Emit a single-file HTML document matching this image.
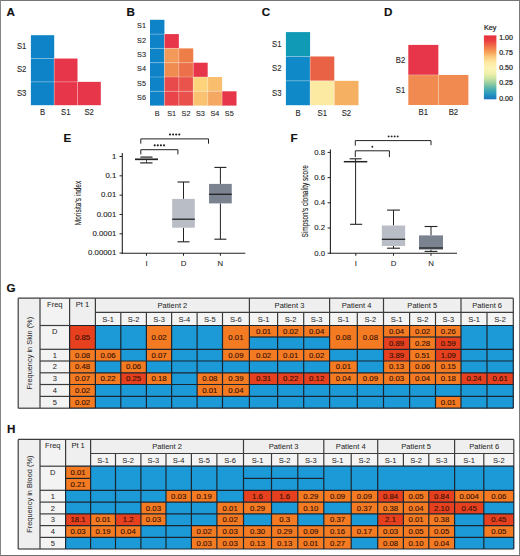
<!DOCTYPE html>
<html><head><meta charset="utf-8"><title>Figure</title>
<style>
html,body{margin:0;padding:0;background:#fff;}
body{width:520px;height:556px;overflow:hidden;}
svg{display:block;font-family:"Liberation Sans", sans-serif;}
</style></head>
<body>
<svg width="520" height="556" viewBox="0 0 520 556">
<rect x="0" y="0" width="520" height="556" fill="#fff"/>
<text transform="translate(6.60,16.30) scale(1.060,1)" font-size="11.0" text-anchor="start" font-weight="bold" fill="#111" stroke="#111" stroke-width="0.15" >A</text>
<text transform="translate(126.60,16.10) scale(1.060,1)" font-size="11.0" text-anchor="start" font-weight="bold" fill="#111" stroke="#111" stroke-width="0.15" >B</text>
<text transform="translate(261.80,16.30) scale(1.060,1)" font-size="11.0" text-anchor="start" font-weight="bold" fill="#111" stroke="#111" stroke-width="0.15" >C</text>
<text transform="translate(384.00,16.30) scale(1.060,1)" font-size="11.0" text-anchor="start" font-weight="bold" fill="#111" stroke="#111" stroke-width="0.15" >D</text>
<text transform="translate(63.40,141.90) scale(1.060,1)" font-size="11.0" text-anchor="start" font-weight="bold" fill="#111" stroke="#111" stroke-width="0.15" >E</text>
<text transform="translate(290.40,141.90) scale(1.060,1)" font-size="11.0" text-anchor="start" font-weight="bold" fill="#111" stroke="#111" stroke-width="0.15" >F</text>
<text transform="translate(6.40,292.30) scale(1.060,1)" font-size="11.0" text-anchor="start" font-weight="bold" fill="#111" stroke="#111" stroke-width="0.15" >G</text>
<text transform="translate(6.90,433.10) scale(1.060,1)" font-size="11.0" text-anchor="start" font-weight="bold" fill="#111" stroke="#111" stroke-width="0.15" >H</text>
<rect x="30.90" y="35.20" width="23.30" height="23.33" fill="#0e83c7" />
<rect x="30.90" y="58.53" width="23.30" height="23.33" fill="#0e83c7" />
<rect x="54.20" y="58.53" width="23.30" height="23.33" fill="#e7364a" />
<rect x="30.90" y="81.86" width="23.30" height="23.33" fill="#0e83c7" />
<rect x="54.20" y="81.86" width="23.30" height="23.33" fill="#e7364a" />
<rect x="77.50" y="81.86" width="23.30" height="23.33" fill="#e7364a" />
<line x1="30.90" y1="58.53" x2="54.20" y2="58.53" stroke="rgba(255,255,255,0.35)" stroke-width="0.8" />
<line x1="54.20" y1="58.53" x2="54.20" y2="81.86" stroke="rgba(255,255,255,0.35)" stroke-width="0.8" />
<line x1="30.90" y1="81.86" x2="54.20" y2="81.86" stroke="rgba(255,255,255,0.35)" stroke-width="0.8" />
<line x1="54.20" y1="81.86" x2="77.50" y2="81.86" stroke="rgba(255,255,255,0.35)" stroke-width="0.8" />
<line x1="54.20" y1="81.86" x2="54.20" y2="105.19" stroke="rgba(255,255,255,0.35)" stroke-width="0.8" />
<line x1="77.50" y1="81.86" x2="77.50" y2="105.19" stroke="rgba(255,255,255,0.35)" stroke-width="0.8" />
<text transform="translate(26.40,48.87) scale(0.900,1)" font-size="8.6" text-anchor="end" font-weight="normal" fill="#262626" stroke="#262626" stroke-width="0.1" >S1</text>
<text transform="translate(26.40,72.19) scale(0.900,1)" font-size="8.6" text-anchor="end" font-weight="normal" fill="#262626" stroke="#262626" stroke-width="0.1" >S2</text>
<text transform="translate(26.40,95.53) scale(0.900,1)" font-size="8.6" text-anchor="end" font-weight="normal" fill="#262626" stroke="#262626" stroke-width="0.1" >S3</text>
<text transform="translate(42.55,115.48) scale(0.900,1)" font-size="8.6" text-anchor="middle" font-weight="normal" fill="#262626" stroke="#262626" stroke-width="0.1" >B</text>
<text transform="translate(65.85,115.48) scale(0.900,1)" font-size="8.6" text-anchor="middle" font-weight="normal" fill="#262626" stroke="#262626" stroke-width="0.1" >S1</text>
<text transform="translate(89.15,115.48) scale(0.900,1)" font-size="8.6" text-anchor="middle" font-weight="normal" fill="#262626" stroke="#262626" stroke-width="0.1" >S2</text>
<rect x="150.00" y="19.80" width="14.42" height="14.30" fill="#0e83c7" />
<rect x="150.00" y="34.10" width="14.42" height="14.30" fill="#0e83c7" />
<rect x="164.42" y="34.10" width="14.42" height="14.30" fill="#e7364a" />
<rect x="150.00" y="48.40" width="14.42" height="14.30" fill="#0e83c7" />
<rect x="164.42" y="48.40" width="14.42" height="14.30" fill="#f39a5a" />
<rect x="178.84" y="48.40" width="14.42" height="14.30" fill="#ee7e48" />
<rect x="150.00" y="62.70" width="14.42" height="14.30" fill="#0e83c7" />
<rect x="164.42" y="62.70" width="14.42" height="14.30" fill="#f08c50" />
<rect x="178.84" y="62.70" width="14.42" height="14.30" fill="#ec7049" />
<rect x="193.26" y="62.70" width="14.42" height="14.30" fill="#e7364a" />
<rect x="150.00" y="77.00" width="14.42" height="14.30" fill="#0e83c7" />
<rect x="164.42" y="77.00" width="14.42" height="14.30" fill="#e84a4b" />
<rect x="178.84" y="77.00" width="14.42" height="14.30" fill="#e9534c" />
<rect x="193.26" y="77.00" width="14.42" height="14.30" fill="#fdd37b" />
<rect x="207.68" y="77.00" width="14.42" height="14.30" fill="#f9be6e" />
<rect x="150.00" y="91.30" width="14.42" height="14.30" fill="#0e83c7" />
<rect x="164.42" y="91.30" width="14.42" height="14.30" fill="#e8444a" />
<rect x="178.84" y="91.30" width="14.42" height="14.30" fill="#e9504c" />
<rect x="193.26" y="91.30" width="14.42" height="14.30" fill="#f8c271" />
<rect x="207.68" y="91.30" width="14.42" height="14.30" fill="#f5a862" />
<rect x="222.10" y="91.30" width="14.42" height="14.30" fill="#e7364a" />
<line x1="150.00" y1="34.10" x2="164.42" y2="34.10" stroke="rgba(255,255,255,0.35)" stroke-width="0.8" />
<line x1="164.42" y1="34.10" x2="164.42" y2="48.40" stroke="rgba(255,255,255,0.35)" stroke-width="0.8" />
<line x1="150.00" y1="48.40" x2="164.42" y2="48.40" stroke="rgba(255,255,255,0.35)" stroke-width="0.8" />
<line x1="164.42" y1="48.40" x2="178.84" y2="48.40" stroke="rgba(255,255,255,0.35)" stroke-width="0.8" />
<line x1="164.42" y1="48.40" x2="164.42" y2="62.70" stroke="rgba(255,255,255,0.35)" stroke-width="0.8" />
<line x1="178.84" y1="48.40" x2="178.84" y2="62.70" stroke="rgba(255,255,255,0.35)" stroke-width="0.8" />
<line x1="150.00" y1="62.70" x2="164.42" y2="62.70" stroke="rgba(255,255,255,0.35)" stroke-width="0.8" />
<line x1="164.42" y1="62.70" x2="178.84" y2="62.70" stroke="rgba(255,255,255,0.35)" stroke-width="0.8" />
<line x1="164.42" y1="62.70" x2="164.42" y2="77.00" stroke="rgba(255,255,255,0.35)" stroke-width="0.8" />
<line x1="178.84" y1="62.70" x2="193.26" y2="62.70" stroke="rgba(255,255,255,0.35)" stroke-width="0.8" />
<line x1="178.84" y1="62.70" x2="178.84" y2="77.00" stroke="rgba(255,255,255,0.35)" stroke-width="0.8" />
<line x1="193.26" y1="62.70" x2="193.26" y2="77.00" stroke="rgba(255,255,255,0.35)" stroke-width="0.8" />
<line x1="150.00" y1="77.00" x2="164.42" y2="77.00" stroke="rgba(255,255,255,0.35)" stroke-width="0.8" />
<line x1="164.42" y1="77.00" x2="178.84" y2="77.00" stroke="rgba(255,255,255,0.35)" stroke-width="0.8" />
<line x1="164.42" y1="77.00" x2="164.42" y2="91.30" stroke="rgba(255,255,255,0.35)" stroke-width="0.8" />
<line x1="178.84" y1="77.00" x2="193.26" y2="77.00" stroke="rgba(255,255,255,0.35)" stroke-width="0.8" />
<line x1="178.84" y1="77.00" x2="178.84" y2="91.30" stroke="rgba(255,255,255,0.35)" stroke-width="0.8" />
<line x1="193.26" y1="77.00" x2="207.68" y2="77.00" stroke="rgba(255,255,255,0.35)" stroke-width="0.8" />
<line x1="193.26" y1="77.00" x2="193.26" y2="91.30" stroke="rgba(255,255,255,0.35)" stroke-width="0.8" />
<line x1="207.68" y1="77.00" x2="207.68" y2="91.30" stroke="rgba(255,255,255,0.35)" stroke-width="0.8" />
<line x1="150.00" y1="91.30" x2="164.42" y2="91.30" stroke="rgba(255,255,255,0.35)" stroke-width="0.8" />
<line x1="164.42" y1="91.30" x2="178.84" y2="91.30" stroke="rgba(255,255,255,0.35)" stroke-width="0.8" />
<line x1="164.42" y1="91.30" x2="164.42" y2="105.60" stroke="rgba(255,255,255,0.35)" stroke-width="0.8" />
<line x1="178.84" y1="91.30" x2="193.26" y2="91.30" stroke="rgba(255,255,255,0.35)" stroke-width="0.8" />
<line x1="178.84" y1="91.30" x2="178.84" y2="105.60" stroke="rgba(255,255,255,0.35)" stroke-width="0.8" />
<line x1="193.26" y1="91.30" x2="207.68" y2="91.30" stroke="rgba(255,255,255,0.35)" stroke-width="0.8" />
<line x1="193.26" y1="91.30" x2="193.26" y2="105.60" stroke="rgba(255,255,255,0.35)" stroke-width="0.8" />
<line x1="207.68" y1="91.30" x2="222.10" y2="91.30" stroke="rgba(255,255,255,0.35)" stroke-width="0.8" />
<line x1="207.68" y1="91.30" x2="207.68" y2="105.60" stroke="rgba(255,255,255,0.35)" stroke-width="0.8" />
<line x1="222.10" y1="91.30" x2="222.10" y2="105.60" stroke="rgba(255,255,255,0.35)" stroke-width="0.8" />
<text transform="translate(146.00,28.45) scale(0.920,1)" font-size="7.9" text-anchor="end" font-weight="normal" fill="#262626" stroke="#262626" stroke-width="0.1" >S1</text>
<text transform="translate(146.00,42.75) scale(0.920,1)" font-size="7.9" text-anchor="end" font-weight="normal" fill="#262626" stroke="#262626" stroke-width="0.1" >S2</text>
<text transform="translate(146.00,57.05) scale(0.920,1)" font-size="7.9" text-anchor="end" font-weight="normal" fill="#262626" stroke="#262626" stroke-width="0.1" >S3</text>
<text transform="translate(146.00,71.35) scale(0.920,1)" font-size="7.9" text-anchor="end" font-weight="normal" fill="#262626" stroke="#262626" stroke-width="0.1" >S4</text>
<text transform="translate(146.00,85.65) scale(0.920,1)" font-size="7.9" text-anchor="end" font-weight="normal" fill="#262626" stroke="#262626" stroke-width="0.1" >S5</text>
<text transform="translate(146.00,99.95) scale(0.920,1)" font-size="7.9" text-anchor="end" font-weight="normal" fill="#262626" stroke="#262626" stroke-width="0.1" >S6</text>
<text transform="translate(157.21,115.59) scale(0.920,1)" font-size="7.9" text-anchor="middle" font-weight="normal" fill="#262626" stroke="#262626" stroke-width="0.1" >B</text>
<text transform="translate(171.63,115.59) scale(0.920,1)" font-size="7.9" text-anchor="middle" font-weight="normal" fill="#262626" stroke="#262626" stroke-width="0.1" >S1</text>
<text transform="translate(186.05,115.59) scale(0.920,1)" font-size="7.9" text-anchor="middle" font-weight="normal" fill="#262626" stroke="#262626" stroke-width="0.1" >S2</text>
<text transform="translate(200.47,115.59) scale(0.920,1)" font-size="7.9" text-anchor="middle" font-weight="normal" fill="#262626" stroke="#262626" stroke-width="0.1" >S3</text>
<text transform="translate(214.89,115.59) scale(0.920,1)" font-size="7.9" text-anchor="middle" font-weight="normal" fill="#262626" stroke="#262626" stroke-width="0.1" >S4</text>
<text transform="translate(229.31,115.59) scale(0.920,1)" font-size="7.9" text-anchor="middle" font-weight="normal" fill="#262626" stroke="#262626" stroke-width="0.1" >S5</text>
<rect x="285.90" y="32.10" width="24.20" height="24.37" fill="#109ab5" />
<rect x="285.90" y="56.47" width="24.20" height="24.37" fill="#0f89c7" />
<rect x="310.10" y="56.47" width="24.20" height="24.37" fill="#ea6245" />
<rect x="285.90" y="80.84" width="24.20" height="24.37" fill="#0f89c7" />
<rect x="310.10" y="80.84" width="24.20" height="24.37" fill="#fdeaa2" />
<rect x="334.30" y="80.84" width="24.20" height="24.37" fill="#f5b062" />
<line x1="285.90" y1="56.47" x2="310.10" y2="56.47" stroke="rgba(255,255,255,0.35)" stroke-width="0.8" />
<line x1="310.10" y1="56.47" x2="310.10" y2="80.84" stroke="rgba(255,255,255,0.35)" stroke-width="0.8" />
<line x1="285.90" y1="80.84" x2="310.10" y2="80.84" stroke="rgba(255,255,255,0.35)" stroke-width="0.8" />
<line x1="310.10" y1="80.84" x2="334.30" y2="80.84" stroke="rgba(255,255,255,0.35)" stroke-width="0.8" />
<line x1="310.10" y1="80.84" x2="310.10" y2="105.21" stroke="rgba(255,255,255,0.35)" stroke-width="0.8" />
<line x1="334.30" y1="80.84" x2="334.30" y2="105.21" stroke="rgba(255,255,255,0.35)" stroke-width="0.8" />
<text transform="translate(281.50,47.09) scale(0.900,1)" font-size="8.6" text-anchor="end" font-weight="normal" fill="#262626" stroke="#262626" stroke-width="0.1" >S1</text>
<text transform="translate(281.50,71.45) scale(0.900,1)" font-size="8.6" text-anchor="end" font-weight="normal" fill="#262626" stroke="#262626" stroke-width="0.1" >S2</text>
<text transform="translate(281.50,95.83) scale(0.900,1)" font-size="8.6" text-anchor="end" font-weight="normal" fill="#262626" stroke="#262626" stroke-width="0.1" >S3</text>
<text transform="translate(298.00,115.50) scale(0.900,1)" font-size="8.6" text-anchor="middle" font-weight="normal" fill="#262626" stroke="#262626" stroke-width="0.1" >B</text>
<text transform="translate(322.20,115.50) scale(0.900,1)" font-size="8.6" text-anchor="middle" font-weight="normal" fill="#262626" stroke="#262626" stroke-width="0.1" >S1</text>
<text transform="translate(346.40,115.50) scale(0.900,1)" font-size="8.6" text-anchor="middle" font-weight="normal" fill="#262626" stroke="#262626" stroke-width="0.1" >S2</text>
<rect x="408.30" y="44.90" width="30.05" height="30.05" fill="#e7364a" />
<rect x="408.30" y="74.95" width="30.05" height="30.05" fill="#f08a50" />
<rect x="438.35" y="74.95" width="30.05" height="30.05" fill="#f08a50" />
<line x1="408.30" y1="74.95" x2="438.35" y2="74.95" stroke="rgba(255,255,255,0.35)" stroke-width="0.8" />
<line x1="438.35" y1="74.95" x2="438.35" y2="105.00" stroke="rgba(255,255,255,0.35)" stroke-width="0.8" />
<text transform="translate(405.30,62.92) scale(0.900,1)" font-size="8.6" text-anchor="end" font-weight="normal" fill="#262626" stroke="#262626" stroke-width="0.1" >B2</text>
<text transform="translate(405.30,92.98) scale(0.900,1)" font-size="8.6" text-anchor="end" font-weight="normal" fill="#262626" stroke="#262626" stroke-width="0.1" >S1</text>
<text transform="translate(423.32,115.29) scale(0.900,1)" font-size="8.6" text-anchor="middle" font-weight="normal" fill="#262626" stroke="#262626" stroke-width="0.1" >B1</text>
<text transform="translate(453.38,115.29) scale(0.900,1)" font-size="8.6" text-anchor="middle" font-weight="normal" fill="#262626" stroke="#262626" stroke-width="0.1" >B2</text>
<defs><linearGradient id="spec" x1="0" y1="0" x2="0" y2="1"><stop offset="0" stop-color="#e52f3d"/><stop offset="0.08" stop-color="#e93d40"/><stop offset="0.16" stop-color="#f06a48"/><stop offset="0.25" stop-color="#f59a55"/><stop offset="0.33" stop-color="#fbc77a"/><stop offset="0.42" stop-color="#fde9a3"/><stop offset="0.52" stop-color="#fbf4b5"/><stop offset="0.6" stop-color="#eef0a8"/><stop offset="0.68" stop-color="#c8e2a2"/><stop offset="0.76" stop-color="#8ccaa2"/><stop offset="0.84" stop-color="#4fb0ae"/><stop offset="0.92" stop-color="#2596c0"/><stop offset="1.0" stop-color="#1b74be"/></linearGradient></defs>
<rect x="483.90" y="35.40" width="12.50" height="63.90" fill="url(#spec)" />
<text transform="translate(483.90,30.00)" font-size="7.2" text-anchor="start" font-weight="normal" fill="#222" stroke="#222" stroke-width="0.22" >Key</text>
<text transform="translate(499.20,40.10)" font-size="7.0" text-anchor="start" font-weight="normal" fill="#222" stroke="#222" stroke-width="0.22" >1.00</text>
<text transform="translate(499.20,55.23)" font-size="7.0" text-anchor="start" font-weight="normal" fill="#222" stroke="#222" stroke-width="0.22" >0.75</text>
<text transform="translate(499.20,70.36)" font-size="7.0" text-anchor="start" font-weight="normal" fill="#222" stroke="#222" stroke-width="0.22" >0.50</text>
<text transform="translate(499.20,85.49)" font-size="7.0" text-anchor="start" font-weight="normal" fill="#222" stroke="#222" stroke-width="0.22" >0.25</text>
<text transform="translate(499.20,100.62)" font-size="7.0" text-anchor="start" font-weight="normal" fill="#222" stroke="#222" stroke-width="0.22" >0.00</text>
<line x1="122.30" y1="153.00" x2="122.30" y2="253.70" stroke="#222" stroke-width="1.1" />
<line x1="121.80" y1="253.20" x2="245.30" y2="253.20" stroke="#222" stroke-width="1.1" />
<line x1="119.50" y1="156.50" x2="122.30" y2="156.50" stroke="#222" stroke-width="1.0" />
<text transform="translate(116.30,158.80) scale(1.220,1)" font-size="6.4" text-anchor="end" font-weight="normal" fill="#222" stroke="#222" stroke-width="0.1" >1</text>
<line x1="119.50" y1="175.82" x2="122.30" y2="175.82" stroke="#222" stroke-width="1.0" />
<text transform="translate(116.30,178.12) scale(1.220,1)" font-size="6.4" text-anchor="end" font-weight="normal" fill="#222" stroke="#222" stroke-width="0.1" >0.1</text>
<line x1="119.50" y1="195.14" x2="122.30" y2="195.14" stroke="#222" stroke-width="1.0" />
<text transform="translate(116.30,197.44) scale(1.220,1)" font-size="6.4" text-anchor="end" font-weight="normal" fill="#222" stroke="#222" stroke-width="0.1" >0.01</text>
<line x1="119.50" y1="214.46" x2="122.30" y2="214.46" stroke="#222" stroke-width="1.0" />
<text transform="translate(116.30,216.76) scale(1.220,1)" font-size="6.4" text-anchor="end" font-weight="normal" fill="#222" stroke="#222" stroke-width="0.1" >0.001</text>
<line x1="119.50" y1="233.78" x2="122.30" y2="233.78" stroke="#222" stroke-width="1.0" />
<text transform="translate(116.30,236.08) scale(1.220,1)" font-size="6.4" text-anchor="end" font-weight="normal" fill="#222" stroke="#222" stroke-width="0.1" >0.0001</text>
<line x1="119.50" y1="253.10" x2="122.30" y2="253.10" stroke="#222" stroke-width="1.0" />
<text transform="translate(116.30,255.40) scale(1.220,1)" font-size="6.4" text-anchor="end" font-weight="normal" fill="#222" stroke="#222" stroke-width="0.1" >0.00001</text>
<line x1="146.50" y1="253.20" x2="146.50" y2="255.80" stroke="#222" stroke-width="1.0" />
<text transform="translate(146.50,265.70) scale(1.220,1)" font-size="6.4" text-anchor="middle" font-weight="normal" fill="#222" stroke="#222" stroke-width="0.05" >I</text>
<line x1="183.50" y1="253.20" x2="183.50" y2="255.80" stroke="#222" stroke-width="1.0" />
<text transform="translate(183.50,265.70) scale(1.220,1)" font-size="6.4" text-anchor="middle" font-weight="normal" fill="#222" stroke="#222" stroke-width="0.05" >D</text>
<line x1="220.40" y1="253.20" x2="220.40" y2="255.80" stroke="#222" stroke-width="1.0" />
<text transform="translate(220.40,265.70) scale(1.220,1)" font-size="6.4" text-anchor="middle" font-weight="normal" fill="#222" stroke="#222" stroke-width="0.05" >N</text>
<text transform="translate(81.00,203.00) rotate(-90) scale(0.720,1)" font-size="9.0" text-anchor="middle" font-weight="normal" fill="#222" stroke="#222" stroke-width="0.12" >Morisita's index</text>
<line x1="140.40" y1="157.10" x2="152.50" y2="157.10" stroke="#222" stroke-width="1.2" />
<line x1="135.00" y1="159.30" x2="158.00" y2="159.30" stroke="#222" stroke-width="1.7" />
<line x1="140.20" y1="162.90" x2="152.50" y2="162.90" stroke="#222" stroke-width="1.2" />
<line x1="146.50" y1="159.30" x2="146.50" y2="162.90" stroke="#222" stroke-width="0.8" />
<line x1="183.50" y1="182.00" x2="183.50" y2="198.90" stroke="#222" stroke-width="1.0" />
<line x1="183.50" y1="227.70" x2="183.50" y2="241.80" stroke="#222" stroke-width="1.0" />
<line x1="177.50" y1="182.00" x2="189.50" y2="182.00" stroke="#222" stroke-width="1.1" />
<line x1="177.50" y1="241.80" x2="189.50" y2="241.80" stroke="#222" stroke-width="1.1" />
<rect x="172.20" y="198.90" width="22.60" height="28.80" fill="#b9bdc5" />
<line x1="172.20" y1="219.20" x2="194.80" y2="219.20" stroke="#222" stroke-width="1.3" />
<line x1="220.40" y1="167.40" x2="220.40" y2="183.90" stroke="#222" stroke-width="1.0" />
<line x1="220.40" y1="203.40" x2="220.40" y2="239.20" stroke="#222" stroke-width="1.0" />
<line x1="214.40" y1="167.40" x2="226.40" y2="167.40" stroke="#222" stroke-width="1.1" />
<line x1="214.40" y1="239.20" x2="226.40" y2="239.20" stroke="#222" stroke-width="1.1" />
<rect x="209.05" y="183.90" width="22.70" height="19.50" fill="#7b8391" />
<line x1="209.05" y1="194.30" x2="231.75" y2="194.30" stroke="#222" stroke-width="1.3" />
<polyline points="140.80,143.70 140.80,138.90 208.50,138.90 208.50,143.70" fill="none" stroke="#222" stroke-width="1.0"/>
<circle cx="170.00" cy="134.50" r="1.1" fill="#222"/>
<circle cx="173.10" cy="134.50" r="1.1" fill="#222"/>
<circle cx="176.20" cy="134.50" r="1.1" fill="#222"/>
<circle cx="179.30" cy="134.50" r="1.1" fill="#222"/>
<polyline points="140.80,154.40 140.80,149.70 177.90,149.70 177.90,154.40" fill="none" stroke="#222" stroke-width="1.0"/>
<circle cx="154.70" cy="145.30" r="1.1" fill="#222"/>
<circle cx="157.80" cy="145.30" r="1.1" fill="#222"/>
<circle cx="160.90" cy="145.30" r="1.1" fill="#222"/>
<circle cx="164.00" cy="145.30" r="1.1" fill="#222"/>
<line x1="330.40" y1="149.60" x2="330.40" y2="253.70" stroke="#222" stroke-width="1.1" />
<line x1="329.90" y1="253.20" x2="457.00" y2="253.20" stroke="#222" stroke-width="1.1" />
<line x1="327.60" y1="152.40" x2="330.40" y2="152.40" stroke="#222" stroke-width="1.0" />
<text transform="translate(325.00,154.70) scale(1.220,1)" font-size="6.4" text-anchor="end" font-weight="normal" fill="#222" stroke="#222" stroke-width="0.1" >0.8</text>
<line x1="327.60" y1="177.60" x2="330.40" y2="177.60" stroke="#222" stroke-width="1.0" />
<text transform="translate(325.00,179.90) scale(1.220,1)" font-size="6.4" text-anchor="end" font-weight="normal" fill="#222" stroke="#222" stroke-width="0.1" >0.6</text>
<line x1="327.60" y1="202.80" x2="330.40" y2="202.80" stroke="#222" stroke-width="1.0" />
<text transform="translate(325.00,205.10) scale(1.220,1)" font-size="6.4" text-anchor="end" font-weight="normal" fill="#222" stroke="#222" stroke-width="0.1" >0.4</text>
<line x1="327.60" y1="228.00" x2="330.40" y2="228.00" stroke="#222" stroke-width="1.0" />
<text transform="translate(325.00,230.30) scale(1.220,1)" font-size="6.4" text-anchor="end" font-weight="normal" fill="#222" stroke="#222" stroke-width="0.1" >0.2</text>
<line x1="327.60" y1="253.20" x2="330.40" y2="253.20" stroke="#222" stroke-width="1.0" />
<text transform="translate(325.00,255.50) scale(1.220,1)" font-size="6.4" text-anchor="end" font-weight="normal" fill="#222" stroke="#222" stroke-width="0.1" >0.0</text>
<line x1="355.80" y1="253.20" x2="355.80" y2="255.80" stroke="#222" stroke-width="1.0" />
<text transform="translate(355.80,265.70) scale(1.220,1)" font-size="6.4" text-anchor="middle" font-weight="normal" fill="#222" stroke="#222" stroke-width="0.05" >I</text>
<line x1="393.50" y1="253.20" x2="393.50" y2="255.80" stroke="#222" stroke-width="1.0" />
<text transform="translate(393.50,265.70) scale(1.220,1)" font-size="6.4" text-anchor="middle" font-weight="normal" fill="#222" stroke="#222" stroke-width="0.05" >D</text>
<line x1="431.00" y1="253.20" x2="431.00" y2="255.80" stroke="#222" stroke-width="1.0" />
<text transform="translate(431.00,265.70) scale(1.220,1)" font-size="6.4" text-anchor="middle" font-weight="normal" fill="#222" stroke="#222" stroke-width="0.05" >N</text>
<text transform="translate(307.50,201.30) rotate(-90) scale(0.720,1)" font-size="9.0" text-anchor="middle" font-weight="normal" fill="#222" stroke="#222" stroke-width="0.12" >Simpson's clonality score</text>
<line x1="355.60" y1="158.80" x2="355.60" y2="224.30" stroke="#222" stroke-width="1.0" />
<line x1="349.60" y1="158.80" x2="361.60" y2="158.80" stroke="#222" stroke-width="1.1" />
<line x1="343.80" y1="161.70" x2="367.30" y2="161.70" stroke="#222" stroke-width="1.5" />
<line x1="350.10" y1="224.30" x2="362.20" y2="224.30" stroke="#222" stroke-width="1.1" />
<line x1="393.50" y1="210.10" x2="393.50" y2="225.50" stroke="#222" stroke-width="1.0" />
<line x1="393.50" y1="246.00" x2="393.50" y2="248.20" stroke="#222" stroke-width="1.0" />
<line x1="387.10" y1="210.10" x2="399.90" y2="210.10" stroke="#222" stroke-width="1.1" />
<line x1="387.10" y1="248.20" x2="399.90" y2="248.20" stroke="#222" stroke-width="1.1" />
<rect x="381.85" y="225.50" width="23.30" height="20.50" fill="#b9bdc5" />
<line x1="381.85" y1="239.30" x2="405.15" y2="239.30" stroke="#222" stroke-width="1.3" />
<line x1="431.00" y1="226.50" x2="431.00" y2="235.40" stroke="#222" stroke-width="1.0" />
<line x1="431.00" y1="249.60" x2="431.00" y2="251.40" stroke="#222" stroke-width="1.0" />
<line x1="424.60" y1="226.50" x2="437.40" y2="226.50" stroke="#222" stroke-width="1.1" />
<line x1="424.60" y1="251.40" x2="437.40" y2="251.40" stroke="#222" stroke-width="1.1" />
<rect x="419.00" y="235.40" width="24.00" height="14.20" fill="#7b8391" />
<line x1="419.00" y1="248.00" x2="443.00" y2="248.00" stroke="#222" stroke-width="1.3" />
<polyline points="355.30,145.60 355.30,140.60 431.00,140.60 431.00,145.20" fill="none" stroke="#222" stroke-width="1.0"/>
<circle cx="388.65" cy="136.40" r="0.95" fill="#222"/>
<circle cx="391.65" cy="136.40" r="0.95" fill="#222"/>
<circle cx="394.65" cy="136.40" r="0.95" fill="#222"/>
<circle cx="397.65" cy="136.40" r="0.95" fill="#222"/>
<polyline points="355.30,157.10 355.30,150.80 389.40,150.80 389.40,157.10" fill="none" stroke="#222" stroke-width="1.0"/>
<circle cx="372.35" cy="146.80" r="0.95" fill="#222"/>
<rect x="18.20" y="298.20" width="21.80" height="110.00" fill="#efefef" />
<rect x="40.00" y="298.20" width="29.60" height="110.00" fill="#f3f3f3" />
<rect x="69.60" y="298.20" width="25.80" height="27.30" fill="#efefef" />
<rect x="95.40" y="298.20" width="417.90" height="14.10" fill="#efefef" />
<rect x="95.40" y="312.30" width="417.90" height="13.20" fill="#f4f4f4" />
<rect x="69.60" y="325.50" width="443.70" height="82.70" fill="#1c9ad7" />
<rect x="69.60" y="325.50" width="25.80" height="23.80" fill="#e6401e" />
<text transform="translate(82.50,339.96) scale(1.100,1)" font-size="7.1" text-anchor="middle" font-weight="normal" fill="#3a1206" stroke="#3a1206" stroke-width="0.12" >0.85</text>
<rect x="146.40" y="325.50" width="25.20" height="23.80" fill="#f47b22" />
<text transform="translate(159.00,339.96) scale(1.100,1)" font-size="7.1" text-anchor="middle" font-weight="normal" fill="#3a1206" stroke="#3a1206" stroke-width="0.12" >0.02</text>
<rect x="222.50" y="325.50" width="26.90" height="23.80" fill="#f47b22" />
<text transform="translate(235.95,339.96) scale(1.100,1)" font-size="7.1" text-anchor="middle" font-weight="normal" fill="#3a1206" stroke="#3a1206" stroke-width="0.12" >0.01</text>
<rect x="249.40" y="325.50" width="28.20" height="11.50" fill="#f47b22" />
<text transform="translate(263.50,333.81) scale(1.100,1)" font-size="7.1" text-anchor="middle" font-weight="normal" fill="#3a1206" stroke="#3a1206" stroke-width="0.12" >0.01</text>
<rect x="277.60" y="325.50" width="26.10" height="11.50" fill="#f47b22" />
<text transform="translate(290.65,333.81) scale(1.100,1)" font-size="7.1" text-anchor="middle" font-weight="normal" fill="#3a1206" stroke="#3a1206" stroke-width="0.12" >0.02</text>
<rect x="303.70" y="325.50" width="25.90" height="11.50" fill="#f47b22" />
<text transform="translate(316.65,333.81) scale(1.100,1)" font-size="7.1" text-anchor="middle" font-weight="normal" fill="#3a1206" stroke="#3a1206" stroke-width="0.12" >0.04</text>
<rect x="329.60" y="325.50" width="27.70" height="23.80" fill="#f47b22" />
<text transform="translate(343.45,339.96) scale(1.100,1)" font-size="7.1" text-anchor="middle" font-weight="normal" fill="#3a1206" stroke="#3a1206" stroke-width="0.12" >0.08</text>
<rect x="357.30" y="325.50" width="26.20" height="23.80" fill="#f47b22" />
<text transform="translate(370.40,339.96) scale(1.100,1)" font-size="7.1" text-anchor="middle" font-weight="normal" fill="#3a1206" stroke="#3a1206" stroke-width="0.12" >0.08</text>
<rect x="383.50" y="325.50" width="26.10" height="11.50" fill="#f47b22" />
<text transform="translate(396.55,333.81) scale(1.100,1)" font-size="7.1" text-anchor="middle" font-weight="normal" fill="#3a1206" stroke="#3a1206" stroke-width="0.12" >0.04</text>
<rect x="383.50" y="337.00" width="26.10" height="12.30" fill="#e6401e" />
<text transform="translate(396.55,345.71) scale(1.100,1)" font-size="7.1" text-anchor="middle" font-weight="normal" fill="#3a1206" stroke="#3a1206" stroke-width="0.12" >0.89</text>
<rect x="409.60" y="325.50" width="25.90" height="11.50" fill="#f47b22" />
<text transform="translate(422.55,333.81) scale(1.100,1)" font-size="7.1" text-anchor="middle" font-weight="normal" fill="#3a1206" stroke="#3a1206" stroke-width="0.12" >0.02</text>
<rect x="409.60" y="337.00" width="25.90" height="12.30" fill="#f47b22" />
<text transform="translate(422.55,345.71) scale(1.100,1)" font-size="7.1" text-anchor="middle" font-weight="normal" fill="#3a1206" stroke="#3a1206" stroke-width="0.12" >0.28</text>
<rect x="435.50" y="325.50" width="25.50" height="11.50" fill="#f47b22" />
<text transform="translate(448.25,333.81) scale(1.100,1)" font-size="7.1" text-anchor="middle" font-weight="normal" fill="#3a1206" stroke="#3a1206" stroke-width="0.12" >0.26</text>
<rect x="435.50" y="337.00" width="25.50" height="12.30" fill="#e6401e" />
<text transform="translate(448.25,345.71) scale(1.100,1)" font-size="7.1" text-anchor="middle" font-weight="normal" fill="#3a1206" stroke="#3a1206" stroke-width="0.12" >0.59</text>
<rect x="69.60" y="349.30" width="25.80" height="11.70" fill="#f47b22" />
<text transform="translate(82.50,357.71) scale(1.100,1)" font-size="7.1" text-anchor="middle" font-weight="normal" fill="#3a1206" stroke="#3a1206" stroke-width="0.12" >0.08</text>
<rect x="95.40" y="349.30" width="25.40" height="11.70" fill="#f47b22" />
<text transform="translate(108.10,357.71) scale(1.100,1)" font-size="7.1" text-anchor="middle" font-weight="normal" fill="#3a1206" stroke="#3a1206" stroke-width="0.12" >0.06</text>
<rect x="146.40" y="349.30" width="25.20" height="11.70" fill="#f47b22" />
<text transform="translate(159.00,357.71) scale(1.100,1)" font-size="7.1" text-anchor="middle" font-weight="normal" fill="#3a1206" stroke="#3a1206" stroke-width="0.12" >0.07</text>
<rect x="222.50" y="349.30" width="26.90" height="11.70" fill="#f47b22" />
<text transform="translate(235.95,357.71) scale(1.100,1)" font-size="7.1" text-anchor="middle" font-weight="normal" fill="#3a1206" stroke="#3a1206" stroke-width="0.12" >0.09</text>
<rect x="249.40" y="349.30" width="28.20" height="11.70" fill="#f47b22" />
<text transform="translate(263.50,357.71) scale(1.100,1)" font-size="7.1" text-anchor="middle" font-weight="normal" fill="#3a1206" stroke="#3a1206" stroke-width="0.12" >0.02</text>
<rect x="277.60" y="349.30" width="26.10" height="11.70" fill="#f47b22" />
<text transform="translate(290.65,357.71) scale(1.100,1)" font-size="7.1" text-anchor="middle" font-weight="normal" fill="#3a1206" stroke="#3a1206" stroke-width="0.12" >0.01</text>
<rect x="303.70" y="349.30" width="25.90" height="11.70" fill="#f47b22" />
<text transform="translate(316.65,357.71) scale(1.100,1)" font-size="7.1" text-anchor="middle" font-weight="normal" fill="#3a1206" stroke="#3a1206" stroke-width="0.12" >0.02</text>
<rect x="383.50" y="349.30" width="26.10" height="11.70" fill="#e6401e" />
<text transform="translate(396.55,357.71) scale(1.100,1)" font-size="7.1" text-anchor="middle" font-weight="normal" fill="#3a1206" stroke="#3a1206" stroke-width="0.12" >3.89</text>
<rect x="409.60" y="349.30" width="25.90" height="11.70" fill="#f47b22" />
<text transform="translate(422.55,357.71) scale(1.100,1)" font-size="7.1" text-anchor="middle" font-weight="normal" fill="#3a1206" stroke="#3a1206" stroke-width="0.12" >0.51</text>
<rect x="435.50" y="349.30" width="25.50" height="11.70" fill="#e6401e" />
<text transform="translate(448.25,357.71) scale(1.100,1)" font-size="7.1" text-anchor="middle" font-weight="normal" fill="#3a1206" stroke="#3a1206" stroke-width="0.12" >1.09</text>
<rect x="69.60" y="361.00" width="25.80" height="11.80" fill="#f47b22" />
<text transform="translate(82.50,369.46) scale(1.100,1)" font-size="7.1" text-anchor="middle" font-weight="normal" fill="#3a1206" stroke="#3a1206" stroke-width="0.12" >0.48</text>
<rect x="120.80" y="361.00" width="25.60" height="11.80" fill="#f47b22" />
<text transform="translate(133.60,369.46) scale(1.100,1)" font-size="7.1" text-anchor="middle" font-weight="normal" fill="#3a1206" stroke="#3a1206" stroke-width="0.12" >0.06</text>
<rect x="329.60" y="361.00" width="27.70" height="11.80" fill="#f47b22" />
<text transform="translate(343.45,369.46) scale(1.100,1)" font-size="7.1" text-anchor="middle" font-weight="normal" fill="#3a1206" stroke="#3a1206" stroke-width="0.12" >0.01</text>
<rect x="383.50" y="361.00" width="26.10" height="11.80" fill="#f47b22" />
<text transform="translate(396.55,369.46) scale(1.100,1)" font-size="7.1" text-anchor="middle" font-weight="normal" fill="#3a1206" stroke="#3a1206" stroke-width="0.12" >0.13</text>
<rect x="409.60" y="361.00" width="25.90" height="11.80" fill="#f47b22" />
<text transform="translate(422.55,369.46) scale(1.100,1)" font-size="7.1" text-anchor="middle" font-weight="normal" fill="#3a1206" stroke="#3a1206" stroke-width="0.12" >0.06</text>
<rect x="435.50" y="361.00" width="25.50" height="11.80" fill="#f47b22" />
<text transform="translate(448.25,369.46) scale(1.100,1)" font-size="7.1" text-anchor="middle" font-weight="normal" fill="#3a1206" stroke="#3a1206" stroke-width="0.12" >0.15</text>
<rect x="69.60" y="372.80" width="25.80" height="11.70" fill="#f47b22" />
<text transform="translate(82.50,381.21) scale(1.100,1)" font-size="7.1" text-anchor="middle" font-weight="normal" fill="#3a1206" stroke="#3a1206" stroke-width="0.12" >0.07</text>
<rect x="95.40" y="372.80" width="25.40" height="11.70" fill="#f47b22" />
<text transform="translate(108.10,381.21) scale(1.100,1)" font-size="7.1" text-anchor="middle" font-weight="normal" fill="#3a1206" stroke="#3a1206" stroke-width="0.12" >0.22</text>
<rect x="120.80" y="372.80" width="25.60" height="11.70" fill="#e6401e" />
<text transform="translate(133.60,381.21) scale(1.100,1)" font-size="7.1" text-anchor="middle" font-weight="normal" fill="#3a1206" stroke="#3a1206" stroke-width="0.12" >0.25</text>
<rect x="146.40" y="372.80" width="25.20" height="11.70" fill="#f47b22" />
<text transform="translate(159.00,381.21) scale(1.100,1)" font-size="7.1" text-anchor="middle" font-weight="normal" fill="#3a1206" stroke="#3a1206" stroke-width="0.12" >0.18</text>
<rect x="197.10" y="372.80" width="25.40" height="11.70" fill="#f47b22" />
<text transform="translate(209.80,381.21) scale(1.100,1)" font-size="7.1" text-anchor="middle" font-weight="normal" fill="#3a1206" stroke="#3a1206" stroke-width="0.12" >0.08</text>
<rect x="222.50" y="372.80" width="26.90" height="11.70" fill="#f47b22" />
<text transform="translate(235.95,381.21) scale(1.100,1)" font-size="7.1" text-anchor="middle" font-weight="normal" fill="#3a1206" stroke="#3a1206" stroke-width="0.12" >0.39</text>
<rect x="249.40" y="372.80" width="28.20" height="11.70" fill="#e6401e" />
<text transform="translate(263.50,381.21) scale(1.100,1)" font-size="7.1" text-anchor="middle" font-weight="normal" fill="#3a1206" stroke="#3a1206" stroke-width="0.12" >0.31</text>
<rect x="277.60" y="372.80" width="26.10" height="11.70" fill="#e6401e" />
<text transform="translate(290.65,381.21) scale(1.100,1)" font-size="7.1" text-anchor="middle" font-weight="normal" fill="#3a1206" stroke="#3a1206" stroke-width="0.12" >0.22</text>
<rect x="303.70" y="372.80" width="25.90" height="11.70" fill="#e6401e" />
<text transform="translate(316.65,381.21) scale(1.100,1)" font-size="7.1" text-anchor="middle" font-weight="normal" fill="#3a1206" stroke="#3a1206" stroke-width="0.12" >0.12</text>
<rect x="329.60" y="372.80" width="27.70" height="11.70" fill="#f47b22" />
<text transform="translate(343.45,381.21) scale(1.100,1)" font-size="7.1" text-anchor="middle" font-weight="normal" fill="#3a1206" stroke="#3a1206" stroke-width="0.12" >0.04</text>
<rect x="357.30" y="372.80" width="26.20" height="11.70" fill="#f47b22" />
<text transform="translate(370.40,381.21) scale(1.100,1)" font-size="7.1" text-anchor="middle" font-weight="normal" fill="#3a1206" stroke="#3a1206" stroke-width="0.12" >0.09</text>
<rect x="383.50" y="372.80" width="26.10" height="11.70" fill="#f47b22" />
<text transform="translate(396.55,381.21) scale(1.100,1)" font-size="7.1" text-anchor="middle" font-weight="normal" fill="#3a1206" stroke="#3a1206" stroke-width="0.12" >0.03</text>
<rect x="409.60" y="372.80" width="25.90" height="11.70" fill="#f47b22" />
<text transform="translate(422.55,381.21) scale(1.100,1)" font-size="7.1" text-anchor="middle" font-weight="normal" fill="#3a1206" stroke="#3a1206" stroke-width="0.12" >0.04</text>
<rect x="435.50" y="372.80" width="25.50" height="11.70" fill="#f47b22" />
<text transform="translate(448.25,381.21) scale(1.100,1)" font-size="7.1" text-anchor="middle" font-weight="normal" fill="#3a1206" stroke="#3a1206" stroke-width="0.12" >0.18</text>
<rect x="461.00" y="372.80" width="26.00" height="11.70" fill="#e6401e" />
<text transform="translate(474.00,381.21) scale(1.100,1)" font-size="7.1" text-anchor="middle" font-weight="normal" fill="#3a1206" stroke="#3a1206" stroke-width="0.12" >0.24</text>
<rect x="487.00" y="372.80" width="26.30" height="11.70" fill="#e6401e" />
<text transform="translate(500.15,381.21) scale(1.100,1)" font-size="7.1" text-anchor="middle" font-weight="normal" fill="#3a1206" stroke="#3a1206" stroke-width="0.12" >0.61</text>
<rect x="69.60" y="384.50" width="25.80" height="11.90" fill="#f47b22" />
<text transform="translate(82.50,393.01) scale(1.100,1)" font-size="7.1" text-anchor="middle" font-weight="normal" fill="#3a1206" stroke="#3a1206" stroke-width="0.12" >0.02</text>
<rect x="197.10" y="384.50" width="25.40" height="11.90" fill="#f47b22" />
<text transform="translate(209.80,393.01) scale(1.100,1)" font-size="7.1" text-anchor="middle" font-weight="normal" fill="#3a1206" stroke="#3a1206" stroke-width="0.12" >0.01</text>
<rect x="222.50" y="384.50" width="26.90" height="11.90" fill="#f47b22" />
<text transform="translate(235.95,393.01) scale(1.100,1)" font-size="7.1" text-anchor="middle" font-weight="normal" fill="#3a1206" stroke="#3a1206" stroke-width="0.12" >0.04</text>
<rect x="69.60" y="396.40" width="25.80" height="11.80" fill="#f47b22" />
<text transform="translate(82.50,404.86) scale(1.100,1)" font-size="7.1" text-anchor="middle" font-weight="normal" fill="#3a1206" stroke="#3a1206" stroke-width="0.12" >0.02</text>
<rect x="435.50" y="396.40" width="25.50" height="11.80" fill="#f47b22" />
<text transform="translate(448.25,404.86) scale(1.100,1)" font-size="7.1" text-anchor="middle" font-weight="normal" fill="#3a1206" stroke="#3a1206" stroke-width="0.12" >0.01</text>
<line x1="18.20" y1="298.20" x2="513.30" y2="298.20" stroke="#3c3c3c" stroke-width="1.2" />
<line x1="95.40" y1="312.30" x2="513.30" y2="312.30" stroke="#3c3c3c" stroke-width="1.2" />
<line x1="69.60" y1="298.20" x2="69.60" y2="325.50" stroke="#3c3c3c" stroke-width="1.2" />
<line x1="95.40" y1="298.20" x2="95.40" y2="325.50" stroke="#3c3c3c" stroke-width="1.2" />
<line x1="120.80" y1="312.30" x2="120.80" y2="325.50" stroke="#3c3c3c" stroke-width="1.2" />
<line x1="146.40" y1="312.30" x2="146.40" y2="325.50" stroke="#3c3c3c" stroke-width="1.2" />
<line x1="171.60" y1="312.30" x2="171.60" y2="325.50" stroke="#3c3c3c" stroke-width="1.2" />
<line x1="197.10" y1="312.30" x2="197.10" y2="325.50" stroke="#3c3c3c" stroke-width="1.2" />
<line x1="222.50" y1="312.30" x2="222.50" y2="325.50" stroke="#3c3c3c" stroke-width="1.2" />
<line x1="249.40" y1="298.20" x2="249.40" y2="325.50" stroke="#3c3c3c" stroke-width="1.2" />
<line x1="277.60" y1="312.30" x2="277.60" y2="325.50" stroke="#3c3c3c" stroke-width="1.2" />
<line x1="303.70" y1="312.30" x2="303.70" y2="325.50" stroke="#3c3c3c" stroke-width="1.2" />
<line x1="329.60" y1="298.20" x2="329.60" y2="325.50" stroke="#3c3c3c" stroke-width="1.2" />
<line x1="357.30" y1="312.30" x2="357.30" y2="325.50" stroke="#3c3c3c" stroke-width="1.2" />
<line x1="383.50" y1="298.20" x2="383.50" y2="325.50" stroke="#3c3c3c" stroke-width="1.2" />
<line x1="409.60" y1="312.30" x2="409.60" y2="325.50" stroke="#3c3c3c" stroke-width="1.2" />
<line x1="435.50" y1="312.30" x2="435.50" y2="325.50" stroke="#3c3c3c" stroke-width="1.2" />
<line x1="461.00" y1="298.20" x2="461.00" y2="325.50" stroke="#3c3c3c" stroke-width="1.2" />
<line x1="487.00" y1="312.30" x2="487.00" y2="325.50" stroke="#3c3c3c" stroke-width="1.2" />
<line x1="513.30" y1="298.20" x2="513.30" y2="325.50" stroke="#3c3c3c" stroke-width="1.2" />
<line x1="18.20" y1="298.20" x2="18.20" y2="408.20" stroke="#3c3c3c" stroke-width="1.2" />
<line x1="40.00" y1="298.20" x2="40.00" y2="408.20" stroke="#3c3c3c" stroke-width="1.2" />
<line x1="18.20" y1="408.20" x2="40.00" y2="408.20" stroke="#3c3c3c" stroke-width="1.2" />
<line x1="40.00" y1="325.50" x2="69.60" y2="325.50" stroke="#3c3c3c" stroke-width="1.2" />
<line x1="40.00" y1="349.30" x2="69.60" y2="349.30" stroke="#3c3c3c" stroke-width="1.2" />
<line x1="40.00" y1="361.00" x2="69.60" y2="361.00" stroke="#3c3c3c" stroke-width="1.2" />
<line x1="40.00" y1="372.80" x2="69.60" y2="372.80" stroke="#3c3c3c" stroke-width="1.2" />
<line x1="40.00" y1="384.50" x2="69.60" y2="384.50" stroke="#3c3c3c" stroke-width="1.2" />
<line x1="40.00" y1="396.40" x2="69.60" y2="396.40" stroke="#3c3c3c" stroke-width="1.2" />
<line x1="40.00" y1="408.20" x2="69.60" y2="408.20" stroke="#3c3c3c" stroke-width="1.2" />
<line x1="69.60" y1="325.50" x2="513.30" y2="325.50" stroke="#1a2530" stroke-width="1.2" />
<line x1="69.60" y1="349.30" x2="513.30" y2="349.30" stroke="#1a2530" stroke-width="1.2" />
<line x1="69.60" y1="361.00" x2="513.30" y2="361.00" stroke="#1a2530" stroke-width="1.2" />
<line x1="69.60" y1="372.80" x2="513.30" y2="372.80" stroke="#1a2530" stroke-width="1.2" />
<line x1="69.60" y1="384.50" x2="513.30" y2="384.50" stroke="#1a2530" stroke-width="1.2" />
<line x1="69.60" y1="396.40" x2="513.30" y2="396.40" stroke="#1a2530" stroke-width="1.2" />
<line x1="69.60" y1="408.20" x2="513.30" y2="408.20" stroke="#1a2530" stroke-width="1.2" />
<line x1="249.40" y1="337.00" x2="277.60" y2="337.00" stroke="#1a2530" stroke-width="1.2" />
<line x1="277.60" y1="337.00" x2="303.70" y2="337.00" stroke="#1a2530" stroke-width="1.2" />
<line x1="303.70" y1="337.00" x2="329.60" y2="337.00" stroke="#1a2530" stroke-width="1.2" />
<line x1="383.50" y1="337.00" x2="409.60" y2="337.00" stroke="#1a2530" stroke-width="1.2" />
<line x1="409.60" y1="337.00" x2="435.50" y2="337.00" stroke="#1a2530" stroke-width="1.2" />
<line x1="435.50" y1="337.00" x2="461.00" y2="337.00" stroke="#1a2530" stroke-width="1.2" />
<line x1="69.60" y1="325.50" x2="69.60" y2="408.20" stroke="#1a2530" stroke-width="1.2" />
<line x1="95.40" y1="325.50" x2="95.40" y2="408.20" stroke="#1a2530" stroke-width="1.2" />
<line x1="120.80" y1="325.50" x2="120.80" y2="408.20" stroke="#1a2530" stroke-width="1.2" />
<line x1="146.40" y1="325.50" x2="146.40" y2="408.20" stroke="#1a2530" stroke-width="1.2" />
<line x1="171.60" y1="325.50" x2="171.60" y2="408.20" stroke="#1a2530" stroke-width="1.2" />
<line x1="197.10" y1="325.50" x2="197.10" y2="408.20" stroke="#1a2530" stroke-width="1.2" />
<line x1="222.50" y1="325.50" x2="222.50" y2="408.20" stroke="#1a2530" stroke-width="1.2" />
<line x1="249.40" y1="325.50" x2="249.40" y2="408.20" stroke="#1a2530" stroke-width="1.2" />
<line x1="277.60" y1="325.50" x2="277.60" y2="408.20" stroke="#1a2530" stroke-width="1.2" />
<line x1="303.70" y1="325.50" x2="303.70" y2="408.20" stroke="#1a2530" stroke-width="1.2" />
<line x1="329.60" y1="325.50" x2="329.60" y2="408.20" stroke="#1a2530" stroke-width="1.2" />
<line x1="357.30" y1="325.50" x2="357.30" y2="408.20" stroke="#1a2530" stroke-width="1.2" />
<line x1="383.50" y1="325.50" x2="383.50" y2="408.20" stroke="#1a2530" stroke-width="1.2" />
<line x1="409.60" y1="325.50" x2="409.60" y2="408.20" stroke="#1a2530" stroke-width="1.2" />
<line x1="435.50" y1="325.50" x2="435.50" y2="408.20" stroke="#1a2530" stroke-width="1.2" />
<line x1="461.00" y1="325.50" x2="461.00" y2="408.20" stroke="#1a2530" stroke-width="1.2" />
<line x1="487.00" y1="325.50" x2="487.00" y2="408.20" stroke="#1a2530" stroke-width="1.2" />
<line x1="513.30" y1="325.50" x2="513.30" y2="408.20" stroke="#1a2530" stroke-width="1.2" />
<text transform="translate(54.80,306.80) scale(1.020,1)" font-size="7.4" text-anchor="middle" font-weight="normal" fill="#262626" stroke="#262626" stroke-width="0.04" >Freq</text>
<text transform="translate(82.50,306.80) scale(1.020,1)" font-size="7.4" text-anchor="middle" font-weight="normal" fill="#262626" stroke="#262626" stroke-width="0.04" >Pt 1</text>
<text transform="translate(172.40,307.81) scale(1.020,1)" font-size="7.4" text-anchor="middle" font-weight="normal" fill="#262626" stroke="#262626" stroke-width="0.04" >Patient 2</text>
<text transform="translate(289.50,307.81) scale(1.020,1)" font-size="7.4" text-anchor="middle" font-weight="normal" fill="#262626" stroke="#262626" stroke-width="0.04" >Patient 3</text>
<text transform="translate(356.55,307.81) scale(1.020,1)" font-size="7.4" text-anchor="middle" font-weight="normal" fill="#262626" stroke="#262626" stroke-width="0.04" >Patient 4</text>
<text transform="translate(422.25,307.81) scale(1.020,1)" font-size="7.4" text-anchor="middle" font-weight="normal" fill="#262626" stroke="#262626" stroke-width="0.04" >Patient 5</text>
<text transform="translate(487.15,307.81) scale(1.020,1)" font-size="7.4" text-anchor="middle" font-weight="normal" fill="#262626" stroke="#262626" stroke-width="0.04" >Patient 6</text>
<text transform="translate(108.10,321.96) scale(1.020,1)" font-size="7.4" text-anchor="middle" font-weight="normal" fill="#262626" stroke="#262626" stroke-width="0.04" >S-1</text>
<text transform="translate(133.60,321.96) scale(1.020,1)" font-size="7.4" text-anchor="middle" font-weight="normal" fill="#262626" stroke="#262626" stroke-width="0.04" >S-2</text>
<text transform="translate(159.00,321.96) scale(1.020,1)" font-size="7.4" text-anchor="middle" font-weight="normal" fill="#262626" stroke="#262626" stroke-width="0.04" >S-3</text>
<text transform="translate(184.35,321.96) scale(1.020,1)" font-size="7.4" text-anchor="middle" font-weight="normal" fill="#262626" stroke="#262626" stroke-width="0.04" >S-4</text>
<text transform="translate(209.80,321.96) scale(1.020,1)" font-size="7.4" text-anchor="middle" font-weight="normal" fill="#262626" stroke="#262626" stroke-width="0.04" >S-5</text>
<text transform="translate(235.95,321.96) scale(1.020,1)" font-size="7.4" text-anchor="middle" font-weight="normal" fill="#262626" stroke="#262626" stroke-width="0.04" >S-6</text>
<text transform="translate(263.50,321.96) scale(1.020,1)" font-size="7.4" text-anchor="middle" font-weight="normal" fill="#262626" stroke="#262626" stroke-width="0.04" >S-1</text>
<text transform="translate(290.65,321.96) scale(1.020,1)" font-size="7.4" text-anchor="middle" font-weight="normal" fill="#262626" stroke="#262626" stroke-width="0.04" >S-2</text>
<text transform="translate(316.65,321.96) scale(1.020,1)" font-size="7.4" text-anchor="middle" font-weight="normal" fill="#262626" stroke="#262626" stroke-width="0.04" >S-3</text>
<text transform="translate(343.45,321.96) scale(1.020,1)" font-size="7.4" text-anchor="middle" font-weight="normal" fill="#262626" stroke="#262626" stroke-width="0.04" >S-1</text>
<text transform="translate(370.40,321.96) scale(1.020,1)" font-size="7.4" text-anchor="middle" font-weight="normal" fill="#262626" stroke="#262626" stroke-width="0.04" >S-2</text>
<text transform="translate(396.55,321.96) scale(1.020,1)" font-size="7.4" text-anchor="middle" font-weight="normal" fill="#262626" stroke="#262626" stroke-width="0.04" >S-1</text>
<text transform="translate(422.55,321.96) scale(1.020,1)" font-size="7.4" text-anchor="middle" font-weight="normal" fill="#262626" stroke="#262626" stroke-width="0.04" >S-2</text>
<text transform="translate(448.25,321.96) scale(1.020,1)" font-size="7.4" text-anchor="middle" font-weight="normal" fill="#262626" stroke="#262626" stroke-width="0.04" >S-3</text>
<text transform="translate(474.00,321.96) scale(1.020,1)" font-size="7.4" text-anchor="middle" font-weight="normal" fill="#262626" stroke="#262626" stroke-width="0.04" >S-1</text>
<text transform="translate(500.15,321.96) scale(1.020,1)" font-size="7.4" text-anchor="middle" font-weight="normal" fill="#262626" stroke="#262626" stroke-width="0.04" >S-2</text>
<text transform="translate(54.80,333.90) scale(1.020,1)" font-size="7.4" text-anchor="middle" font-weight="normal" fill="#262626" stroke="#262626" stroke-width="0.04" >D</text>
<text transform="translate(54.80,357.71) scale(1.020,1)" font-size="7.4" text-anchor="middle" font-weight="normal" fill="#262626" stroke="#262626" stroke-width="0.04" >1</text>
<text transform="translate(54.80,369.46) scale(1.020,1)" font-size="7.4" text-anchor="middle" font-weight="normal" fill="#262626" stroke="#262626" stroke-width="0.04" >2</text>
<text transform="translate(54.80,381.21) scale(1.020,1)" font-size="7.4" text-anchor="middle" font-weight="normal" fill="#262626" stroke="#262626" stroke-width="0.04" >3</text>
<text transform="translate(54.80,393.01) scale(1.020,1)" font-size="7.4" text-anchor="middle" font-weight="normal" fill="#262626" stroke="#262626" stroke-width="0.04" >4</text>
<text transform="translate(54.80,404.86) scale(1.020,1)" font-size="7.4" text-anchor="middle" font-weight="normal" fill="#262626" stroke="#262626" stroke-width="0.04" >5</text>
<text transform="translate(31.70,353.20) rotate(-90)" font-size="7.4" text-anchor="middle" font-weight="normal" fill="#262626" >Frequency in Skin (%)</text>
<rect x="18.20" y="439.40" width="21.80" height="109.60" fill="#efefef" />
<rect x="40.00" y="439.40" width="25.60" height="109.60" fill="#f3f3f3" />
<rect x="65.60" y="439.40" width="25.00" height="26.80" fill="#efefef" />
<rect x="90.60" y="439.40" width="423.20" height="14.10" fill="#efefef" />
<rect x="90.60" y="453.50" width="423.20" height="12.70" fill="#f4f4f4" />
<rect x="65.60" y="466.20" width="448.20" height="82.80" fill="#1c9ad7" />
<rect x="65.60" y="466.20" width="25.00" height="12.20" fill="#f47b22" />
<text transform="translate(78.10,474.86) scale(1.100,1)" font-size="7.1" text-anchor="middle" font-weight="normal" fill="#3a1206" stroke="#3a1206" stroke-width="0.12" >0.01</text>
<rect x="65.60" y="478.40" width="25.00" height="11.90" fill="#f47b22" />
<text transform="translate(78.10,486.91) scale(1.100,1)" font-size="7.1" text-anchor="middle" font-weight="normal" fill="#3a1206" stroke="#3a1206" stroke-width="0.12" >0.21</text>
<rect x="166.00" y="490.30" width="25.40" height="11.80" fill="#f47b22" />
<text transform="translate(178.70,498.76) scale(1.100,1)" font-size="7.1" text-anchor="middle" font-weight="normal" fill="#3a1206" stroke="#3a1206" stroke-width="0.12" >0.03</text>
<rect x="191.40" y="490.30" width="25.50" height="11.80" fill="#f47b22" />
<text transform="translate(204.15,498.76) scale(1.100,1)" font-size="7.1" text-anchor="middle" font-weight="normal" fill="#3a1206" stroke="#3a1206" stroke-width="0.12" >0.19</text>
<rect x="243.50" y="490.30" width="28.00" height="11.80" fill="#e6401e" />
<text transform="translate(257.50,498.76) scale(1.100,1)" font-size="7.1" text-anchor="middle" font-weight="normal" fill="#3a1206" stroke="#3a1206" stroke-width="0.12" >1.6</text>
<rect x="271.50" y="490.30" width="26.30" height="11.80" fill="#e6401e" />
<text transform="translate(284.65,498.76) scale(1.100,1)" font-size="7.1" text-anchor="middle" font-weight="normal" fill="#3a1206" stroke="#3a1206" stroke-width="0.12" >1.6</text>
<rect x="297.80" y="490.30" width="26.00" height="11.80" fill="#f47b22" />
<text transform="translate(310.80,498.76) scale(1.100,1)" font-size="7.1" text-anchor="middle" font-weight="normal" fill="#3a1206" stroke="#3a1206" stroke-width="0.12" >0.29</text>
<rect x="323.80" y="490.30" width="27.40" height="11.80" fill="#f47b22" />
<text transform="translate(337.50,498.76) scale(1.100,1)" font-size="7.1" text-anchor="middle" font-weight="normal" fill="#3a1206" stroke="#3a1206" stroke-width="0.12" >0.09</text>
<rect x="351.20" y="490.30" width="26.50" height="11.80" fill="#f47b22" />
<text transform="translate(364.45,498.76) scale(1.100,1)" font-size="7.1" text-anchor="middle" font-weight="normal" fill="#3a1206" stroke="#3a1206" stroke-width="0.12" >0.09</text>
<rect x="377.70" y="490.30" width="25.70" height="11.80" fill="#e6401e" />
<text transform="translate(390.55,498.76) scale(1.100,1)" font-size="7.1" text-anchor="middle" font-weight="normal" fill="#3a1206" stroke="#3a1206" stroke-width="0.12" >0.84</text>
<rect x="403.40" y="490.30" width="25.40" height="11.80" fill="#f47b22" />
<text transform="translate(416.10,498.76) scale(1.100,1)" font-size="7.1" text-anchor="middle" font-weight="normal" fill="#3a1206" stroke="#3a1206" stroke-width="0.12" >0.05</text>
<rect x="428.80" y="490.30" width="25.80" height="11.80" fill="#e6401e" />
<text transform="translate(441.70,498.76) scale(1.100,1)" font-size="7.1" text-anchor="middle" font-weight="normal" fill="#3a1206" stroke="#3a1206" stroke-width="0.12" >0.84</text>
<rect x="454.60" y="490.30" width="29.20" height="11.80" fill="#f47b22" />
<text transform="translate(469.20,498.76) scale(1.100,1)" font-size="7.1" text-anchor="middle" font-weight="normal" fill="#3a1206" stroke="#3a1206" stroke-width="0.12" >0.004</text>
<rect x="483.80" y="490.30" width="30.00" height="11.80" fill="#f47b22" />
<text transform="translate(498.80,498.76) scale(1.100,1)" font-size="7.1" text-anchor="middle" font-weight="normal" fill="#3a1206" stroke="#3a1206" stroke-width="0.12" >0.06</text>
<rect x="140.90" y="502.10" width="25.10" height="11.80" fill="#f47b22" />
<text transform="translate(153.45,510.56) scale(1.100,1)" font-size="7.1" text-anchor="middle" font-weight="normal" fill="#3a1206" stroke="#3a1206" stroke-width="0.12" >0.03</text>
<rect x="216.90" y="502.10" width="26.60" height="11.80" fill="#f47b22" />
<text transform="translate(230.20,510.56) scale(1.100,1)" font-size="7.1" text-anchor="middle" font-weight="normal" fill="#3a1206" stroke="#3a1206" stroke-width="0.12" >0.01</text>
<rect x="243.50" y="502.10" width="28.00" height="11.80" fill="#f47b22" />
<text transform="translate(257.50,510.56) scale(1.100,1)" font-size="7.1" text-anchor="middle" font-weight="normal" fill="#3a1206" stroke="#3a1206" stroke-width="0.12" >0.29</text>
<rect x="297.80" y="502.10" width="26.00" height="11.80" fill="#f47b22" />
<text transform="translate(310.80,510.56) scale(1.100,1)" font-size="7.1" text-anchor="middle" font-weight="normal" fill="#3a1206" stroke="#3a1206" stroke-width="0.12" >0.10</text>
<rect x="351.20" y="502.10" width="26.50" height="11.80" fill="#f47b22" />
<text transform="translate(364.45,510.56) scale(1.100,1)" font-size="7.1" text-anchor="middle" font-weight="normal" fill="#3a1206" stroke="#3a1206" stroke-width="0.12" >0.37</text>
<rect x="377.70" y="502.10" width="25.70" height="11.80" fill="#f47b22" />
<text transform="translate(390.55,510.56) scale(1.100,1)" font-size="7.1" text-anchor="middle" font-weight="normal" fill="#3a1206" stroke="#3a1206" stroke-width="0.12" >0.38</text>
<rect x="403.40" y="502.10" width="25.40" height="11.80" fill="#f47b22" />
<text transform="translate(416.10,510.56) scale(1.100,1)" font-size="7.1" text-anchor="middle" font-weight="normal" fill="#3a1206" stroke="#3a1206" stroke-width="0.12" >0.04</text>
<rect x="428.80" y="502.10" width="25.80" height="11.80" fill="#e6401e" />
<text transform="translate(441.70,510.56) scale(1.100,1)" font-size="7.1" text-anchor="middle" font-weight="normal" fill="#3a1206" stroke="#3a1206" stroke-width="0.12" >2.10</text>
<rect x="454.60" y="502.10" width="29.20" height="11.80" fill="#e6401e" />
<text transform="translate(469.20,510.56) scale(1.100,1)" font-size="7.1" text-anchor="middle" font-weight="normal" fill="#3a1206" stroke="#3a1206" stroke-width="0.12" >0.45</text>
<rect x="65.60" y="513.90" width="25.00" height="11.70" fill="#e6401e" />
<text transform="translate(78.10,522.31) scale(1.100,1)" font-size="7.1" text-anchor="middle" font-weight="normal" fill="#3a1206" stroke="#3a1206" stroke-width="0.12" >18.1</text>
<rect x="90.60" y="513.90" width="24.90" height="11.70" fill="#f47b22" />
<text transform="translate(103.05,522.31) scale(1.100,1)" font-size="7.1" text-anchor="middle" font-weight="normal" fill="#3a1206" stroke="#3a1206" stroke-width="0.12" >0.01</text>
<rect x="115.50" y="513.90" width="25.40" height="11.70" fill="#e6401e" />
<text transform="translate(128.20,522.31) scale(1.100,1)" font-size="7.1" text-anchor="middle" font-weight="normal" fill="#3a1206" stroke="#3a1206" stroke-width="0.12" >1.2</text>
<rect x="140.90" y="513.90" width="25.10" height="11.70" fill="#f47b22" />
<text transform="translate(153.45,522.31) scale(1.100,1)" font-size="7.1" text-anchor="middle" font-weight="normal" fill="#3a1206" stroke="#3a1206" stroke-width="0.12" >0.03</text>
<rect x="216.90" y="513.90" width="26.60" height="11.70" fill="#f47b22" />
<text transform="translate(230.20,522.31) scale(1.100,1)" font-size="7.1" text-anchor="middle" font-weight="normal" fill="#3a1206" stroke="#3a1206" stroke-width="0.12" >0.02</text>
<rect x="271.50" y="513.90" width="26.30" height="11.70" fill="#f47b22" />
<text transform="translate(284.65,522.31) scale(1.100,1)" font-size="7.1" text-anchor="middle" font-weight="normal" fill="#3a1206" stroke="#3a1206" stroke-width="0.12" >0.3</text>
<rect x="323.80" y="513.90" width="27.40" height="11.70" fill="#f47b22" />
<text transform="translate(337.50,522.31) scale(1.100,1)" font-size="7.1" text-anchor="middle" font-weight="normal" fill="#3a1206" stroke="#3a1206" stroke-width="0.12" >0.37</text>
<rect x="377.70" y="513.90" width="25.70" height="11.70" fill="#e6401e" />
<text transform="translate(390.55,522.31) scale(1.100,1)" font-size="7.1" text-anchor="middle" font-weight="normal" fill="#3a1206" stroke="#3a1206" stroke-width="0.12" >2.1</text>
<rect x="403.40" y="513.90" width="25.40" height="11.70" fill="#f47b22" />
<text transform="translate(416.10,522.31) scale(1.100,1)" font-size="7.1" text-anchor="middle" font-weight="normal" fill="#3a1206" stroke="#3a1206" stroke-width="0.12" >0.01</text>
<rect x="428.80" y="513.90" width="25.80" height="11.70" fill="#f47b22" />
<text transform="translate(441.70,522.31) scale(1.100,1)" font-size="7.1" text-anchor="middle" font-weight="normal" fill="#3a1206" stroke="#3a1206" stroke-width="0.12" >0.38</text>
<rect x="483.80" y="513.90" width="30.00" height="11.70" fill="#e6401e" />
<text transform="translate(498.80,522.31) scale(1.100,1)" font-size="7.1" text-anchor="middle" font-weight="normal" fill="#3a1206" stroke="#3a1206" stroke-width="0.12" >0.45</text>
<rect x="65.60" y="525.60" width="25.00" height="11.80" fill="#f47b22" />
<text transform="translate(78.10,534.06) scale(1.100,1)" font-size="7.1" text-anchor="middle" font-weight="normal" fill="#3a1206" stroke="#3a1206" stroke-width="0.12" >0.03</text>
<rect x="90.60" y="525.60" width="24.90" height="11.80" fill="#f47b22" />
<text transform="translate(103.05,534.06) scale(1.100,1)" font-size="7.1" text-anchor="middle" font-weight="normal" fill="#3a1206" stroke="#3a1206" stroke-width="0.12" >0.19</text>
<rect x="115.50" y="525.60" width="25.40" height="11.80" fill="#f47b22" />
<text transform="translate(128.20,534.06) scale(1.100,1)" font-size="7.1" text-anchor="middle" font-weight="normal" fill="#3a1206" stroke="#3a1206" stroke-width="0.12" >0.04</text>
<rect x="191.40" y="525.60" width="25.50" height="11.80" fill="#f47b22" />
<text transform="translate(204.15,534.06) scale(1.100,1)" font-size="7.1" text-anchor="middle" font-weight="normal" fill="#3a1206" stroke="#3a1206" stroke-width="0.12" >0.02</text>
<rect x="216.90" y="525.60" width="26.60" height="11.80" fill="#f47b22" />
<text transform="translate(230.20,534.06) scale(1.100,1)" font-size="7.1" text-anchor="middle" font-weight="normal" fill="#3a1206" stroke="#3a1206" stroke-width="0.12" >0.03</text>
<rect x="243.50" y="525.60" width="28.00" height="11.80" fill="#f47b22" />
<text transform="translate(257.50,534.06) scale(1.100,1)" font-size="7.1" text-anchor="middle" font-weight="normal" fill="#3a1206" stroke="#3a1206" stroke-width="0.12" >0.30</text>
<rect x="271.50" y="525.60" width="26.30" height="11.80" fill="#f47b22" />
<text transform="translate(284.65,534.06) scale(1.100,1)" font-size="7.1" text-anchor="middle" font-weight="normal" fill="#3a1206" stroke="#3a1206" stroke-width="0.12" >0.29</text>
<rect x="297.80" y="525.60" width="26.00" height="11.80" fill="#f47b22" />
<text transform="translate(310.80,534.06) scale(1.100,1)" font-size="7.1" text-anchor="middle" font-weight="normal" fill="#3a1206" stroke="#3a1206" stroke-width="0.12" >0.09</text>
<rect x="323.80" y="525.60" width="27.40" height="11.80" fill="#f47b22" />
<text transform="translate(337.50,534.06) scale(1.100,1)" font-size="7.1" text-anchor="middle" font-weight="normal" fill="#3a1206" stroke="#3a1206" stroke-width="0.12" >0.16</text>
<rect x="351.20" y="525.60" width="26.50" height="11.80" fill="#f47b22" />
<text transform="translate(364.45,534.06) scale(1.100,1)" font-size="7.1" text-anchor="middle" font-weight="normal" fill="#3a1206" stroke="#3a1206" stroke-width="0.12" >0.17</text>
<rect x="377.70" y="525.60" width="25.70" height="11.80" fill="#f47b22" />
<text transform="translate(390.55,534.06) scale(1.100,1)" font-size="7.1" text-anchor="middle" font-weight="normal" fill="#3a1206" stroke="#3a1206" stroke-width="0.12" >0.03</text>
<rect x="403.40" y="525.60" width="25.40" height="11.80" fill="#f47b22" />
<text transform="translate(416.10,534.06) scale(1.100,1)" font-size="7.1" text-anchor="middle" font-weight="normal" fill="#3a1206" stroke="#3a1206" stroke-width="0.12" >0.05</text>
<rect x="428.80" y="525.60" width="25.80" height="11.80" fill="#f47b22" />
<text transform="translate(441.70,534.06) scale(1.100,1)" font-size="7.1" text-anchor="middle" font-weight="normal" fill="#3a1206" stroke="#3a1206" stroke-width="0.12" >0.05</text>
<rect x="483.80" y="525.60" width="30.00" height="11.80" fill="#f47b22" />
<text transform="translate(498.80,534.06) scale(1.100,1)" font-size="7.1" text-anchor="middle" font-weight="normal" fill="#3a1206" stroke="#3a1206" stroke-width="0.12" >0.05</text>
<rect x="191.40" y="537.40" width="25.50" height="11.60" fill="#f47b22" />
<text transform="translate(204.15,545.76) scale(1.100,1)" font-size="7.1" text-anchor="middle" font-weight="normal" fill="#3a1206" stroke="#3a1206" stroke-width="0.12" >0.03</text>
<rect x="216.90" y="537.40" width="26.60" height="11.60" fill="#f47b22" />
<text transform="translate(230.20,545.76) scale(1.100,1)" font-size="7.1" text-anchor="middle" font-weight="normal" fill="#3a1206" stroke="#3a1206" stroke-width="0.12" >0.03</text>
<rect x="243.50" y="537.40" width="28.00" height="11.60" fill="#f47b22" />
<text transform="translate(257.50,545.76) scale(1.100,1)" font-size="7.1" text-anchor="middle" font-weight="normal" fill="#3a1206" stroke="#3a1206" stroke-width="0.12" >0.13</text>
<rect x="271.50" y="537.40" width="26.30" height="11.60" fill="#f47b22" />
<text transform="translate(284.65,545.76) scale(1.100,1)" font-size="7.1" text-anchor="middle" font-weight="normal" fill="#3a1206" stroke="#3a1206" stroke-width="0.12" >0.13</text>
<rect x="297.80" y="537.40" width="26.00" height="11.60" fill="#f47b22" />
<text transform="translate(310.80,545.76) scale(1.100,1)" font-size="7.1" text-anchor="middle" font-weight="normal" fill="#3a1206" stroke="#3a1206" stroke-width="0.12" >0.01</text>
<rect x="323.80" y="537.40" width="27.40" height="11.60" fill="#f47b22" />
<text transform="translate(337.50,545.76) scale(1.100,1)" font-size="7.1" text-anchor="middle" font-weight="normal" fill="#3a1206" stroke="#3a1206" stroke-width="0.12" >0.27</text>
<rect x="377.70" y="537.40" width="25.70" height="11.60" fill="#f47b22" />
<text transform="translate(390.55,545.76) scale(1.100,1)" font-size="7.1" text-anchor="middle" font-weight="normal" fill="#3a1206" stroke="#3a1206" stroke-width="0.12" >0.08</text>
<rect x="403.40" y="537.40" width="25.40" height="11.60" fill="#f47b22" />
<text transform="translate(416.10,545.76) scale(1.100,1)" font-size="7.1" text-anchor="middle" font-weight="normal" fill="#3a1206" stroke="#3a1206" stroke-width="0.12" >0.10</text>
<rect x="428.80" y="537.40" width="25.80" height="11.60" fill="#f47b22" />
<text transform="translate(441.70,545.76) scale(1.100,1)" font-size="7.1" text-anchor="middle" font-weight="normal" fill="#3a1206" stroke="#3a1206" stroke-width="0.12" >0.04</text>
<line x1="18.20" y1="439.40" x2="513.80" y2="439.40" stroke="#3c3c3c" stroke-width="1.2" />
<line x1="90.60" y1="453.50" x2="513.80" y2="453.50" stroke="#3c3c3c" stroke-width="1.2" />
<line x1="65.60" y1="439.40" x2="65.60" y2="466.20" stroke="#3c3c3c" stroke-width="1.2" />
<line x1="90.60" y1="439.40" x2="90.60" y2="466.20" stroke="#3c3c3c" stroke-width="1.2" />
<line x1="115.50" y1="453.50" x2="115.50" y2="466.20" stroke="#3c3c3c" stroke-width="1.2" />
<line x1="140.90" y1="453.50" x2="140.90" y2="466.20" stroke="#3c3c3c" stroke-width="1.2" />
<line x1="166.00" y1="453.50" x2="166.00" y2="466.20" stroke="#3c3c3c" stroke-width="1.2" />
<line x1="191.40" y1="453.50" x2="191.40" y2="466.20" stroke="#3c3c3c" stroke-width="1.2" />
<line x1="216.90" y1="453.50" x2="216.90" y2="466.20" stroke="#3c3c3c" stroke-width="1.2" />
<line x1="243.50" y1="439.40" x2="243.50" y2="466.20" stroke="#3c3c3c" stroke-width="1.2" />
<line x1="271.50" y1="453.50" x2="271.50" y2="466.20" stroke="#3c3c3c" stroke-width="1.2" />
<line x1="297.80" y1="453.50" x2="297.80" y2="466.20" stroke="#3c3c3c" stroke-width="1.2" />
<line x1="323.80" y1="439.40" x2="323.80" y2="466.20" stroke="#3c3c3c" stroke-width="1.2" />
<line x1="351.20" y1="453.50" x2="351.20" y2="466.20" stroke="#3c3c3c" stroke-width="1.2" />
<line x1="377.70" y1="439.40" x2="377.70" y2="466.20" stroke="#3c3c3c" stroke-width="1.2" />
<line x1="403.40" y1="453.50" x2="403.40" y2="466.20" stroke="#3c3c3c" stroke-width="1.2" />
<line x1="428.80" y1="453.50" x2="428.80" y2="466.20" stroke="#3c3c3c" stroke-width="1.2" />
<line x1="454.60" y1="439.40" x2="454.60" y2="466.20" stroke="#3c3c3c" stroke-width="1.2" />
<line x1="483.80" y1="453.50" x2="483.80" y2="466.20" stroke="#3c3c3c" stroke-width="1.2" />
<line x1="513.80" y1="439.40" x2="513.80" y2="466.20" stroke="#3c3c3c" stroke-width="1.2" />
<line x1="18.20" y1="439.40" x2="18.20" y2="549.00" stroke="#3c3c3c" stroke-width="1.2" />
<line x1="40.00" y1="439.40" x2="40.00" y2="549.00" stroke="#3c3c3c" stroke-width="1.2" />
<line x1="18.20" y1="549.00" x2="40.00" y2="549.00" stroke="#3c3c3c" stroke-width="1.2" />
<line x1="40.00" y1="466.20" x2="65.60" y2="466.20" stroke="#3c3c3c" stroke-width="1.2" />
<line x1="40.00" y1="490.30" x2="65.60" y2="490.30" stroke="#3c3c3c" stroke-width="1.2" />
<line x1="40.00" y1="502.10" x2="65.60" y2="502.10" stroke="#3c3c3c" stroke-width="1.2" />
<line x1="40.00" y1="513.90" x2="65.60" y2="513.90" stroke="#3c3c3c" stroke-width="1.2" />
<line x1="40.00" y1="525.60" x2="65.60" y2="525.60" stroke="#3c3c3c" stroke-width="1.2" />
<line x1="40.00" y1="537.40" x2="65.60" y2="537.40" stroke="#3c3c3c" stroke-width="1.2" />
<line x1="40.00" y1="549.00" x2="65.60" y2="549.00" stroke="#3c3c3c" stroke-width="1.2" />
<line x1="65.60" y1="466.20" x2="513.80" y2="466.20" stroke="#1a2530" stroke-width="1.2" />
<line x1="65.60" y1="490.30" x2="513.80" y2="490.30" stroke="#1a2530" stroke-width="1.2" />
<line x1="65.60" y1="502.10" x2="513.80" y2="502.10" stroke="#1a2530" stroke-width="1.2" />
<line x1="65.60" y1="513.90" x2="513.80" y2="513.90" stroke="#1a2530" stroke-width="1.2" />
<line x1="65.60" y1="525.60" x2="513.80" y2="525.60" stroke="#1a2530" stroke-width="1.2" />
<line x1="65.60" y1="537.40" x2="513.80" y2="537.40" stroke="#1a2530" stroke-width="1.2" />
<line x1="65.60" y1="549.00" x2="513.80" y2="549.00" stroke="#1a2530" stroke-width="1.2" />
<line x1="65.60" y1="478.40" x2="90.60" y2="478.40" stroke="#1a2530" stroke-width="1.2" />
<line x1="243.50" y1="478.40" x2="271.50" y2="478.40" stroke="#1a2530" stroke-width="1.2" />
<line x1="271.50" y1="478.40" x2="297.80" y2="478.40" stroke="#1a2530" stroke-width="1.2" />
<line x1="297.80" y1="478.40" x2="323.80" y2="478.40" stroke="#1a2530" stroke-width="1.2" />
<line x1="65.60" y1="466.20" x2="65.60" y2="549.00" stroke="#1a2530" stroke-width="1.2" />
<line x1="90.60" y1="466.20" x2="90.60" y2="549.00" stroke="#1a2530" stroke-width="1.2" />
<line x1="115.50" y1="466.20" x2="115.50" y2="549.00" stroke="#1a2530" stroke-width="1.2" />
<line x1="140.90" y1="466.20" x2="140.90" y2="549.00" stroke="#1a2530" stroke-width="1.2" />
<line x1="166.00" y1="466.20" x2="166.00" y2="549.00" stroke="#1a2530" stroke-width="1.2" />
<line x1="191.40" y1="466.20" x2="191.40" y2="549.00" stroke="#1a2530" stroke-width="1.2" />
<line x1="216.90" y1="466.20" x2="216.90" y2="549.00" stroke="#1a2530" stroke-width="1.2" />
<line x1="243.50" y1="466.20" x2="243.50" y2="549.00" stroke="#1a2530" stroke-width="1.2" />
<line x1="271.50" y1="466.20" x2="271.50" y2="549.00" stroke="#1a2530" stroke-width="1.2" />
<line x1="297.80" y1="466.20" x2="297.80" y2="549.00" stroke="#1a2530" stroke-width="1.2" />
<line x1="323.80" y1="466.20" x2="323.80" y2="549.00" stroke="#1a2530" stroke-width="1.2" />
<line x1="351.20" y1="466.20" x2="351.20" y2="549.00" stroke="#1a2530" stroke-width="1.2" />
<line x1="377.70" y1="466.20" x2="377.70" y2="549.00" stroke="#1a2530" stroke-width="1.2" />
<line x1="403.40" y1="490.30" x2="403.40" y2="549.00" stroke="#1a2530" stroke-width="1.2" />
<line x1="428.80" y1="490.30" x2="428.80" y2="549.00" stroke="#1a2530" stroke-width="1.2" />
<line x1="454.60" y1="466.20" x2="454.60" y2="549.00" stroke="#1a2530" stroke-width="1.2" />
<line x1="483.80" y1="466.20" x2="483.80" y2="549.00" stroke="#1a2530" stroke-width="1.2" />
<line x1="513.80" y1="466.20" x2="513.80" y2="549.00" stroke="#1a2530" stroke-width="1.2" />
<text transform="translate(52.80,448.00) scale(1.020,1)" font-size="7.4" text-anchor="middle" font-weight="normal" fill="#262626" stroke="#262626" stroke-width="0.04" >Freq</text>
<text transform="translate(78.10,448.00) scale(1.020,1)" font-size="7.4" text-anchor="middle" font-weight="normal" fill="#262626" stroke="#262626" stroke-width="0.04" >Pt 1</text>
<text transform="translate(167.05,449.01) scale(1.020,1)" font-size="7.4" text-anchor="middle" font-weight="normal" fill="#262626" stroke="#262626" stroke-width="0.04" >Patient 2</text>
<text transform="translate(283.65,449.01) scale(1.020,1)" font-size="7.4" text-anchor="middle" font-weight="normal" fill="#262626" stroke="#262626" stroke-width="0.04" >Patient 3</text>
<text transform="translate(350.75,449.01) scale(1.020,1)" font-size="7.4" text-anchor="middle" font-weight="normal" fill="#262626" stroke="#262626" stroke-width="0.04" >Patient 4</text>
<text transform="translate(416.15,449.01) scale(1.020,1)" font-size="7.4" text-anchor="middle" font-weight="normal" fill="#262626" stroke="#262626" stroke-width="0.04" >Patient 5</text>
<text transform="translate(484.20,449.01) scale(1.020,1)" font-size="7.4" text-anchor="middle" font-weight="normal" fill="#262626" stroke="#262626" stroke-width="0.04" >Patient 6</text>
<text transform="translate(103.05,462.91) scale(1.020,1)" font-size="7.4" text-anchor="middle" font-weight="normal" fill="#262626" stroke="#262626" stroke-width="0.04" >S-1</text>
<text transform="translate(128.20,462.91) scale(1.020,1)" font-size="7.4" text-anchor="middle" font-weight="normal" fill="#262626" stroke="#262626" stroke-width="0.04" >S-2</text>
<text transform="translate(153.45,462.91) scale(1.020,1)" font-size="7.4" text-anchor="middle" font-weight="normal" fill="#262626" stroke="#262626" stroke-width="0.04" >S-3</text>
<text transform="translate(178.70,462.91) scale(1.020,1)" font-size="7.4" text-anchor="middle" font-weight="normal" fill="#262626" stroke="#262626" stroke-width="0.04" >S-4</text>
<text transform="translate(204.15,462.91) scale(1.020,1)" font-size="7.4" text-anchor="middle" font-weight="normal" fill="#262626" stroke="#262626" stroke-width="0.04" >S-5</text>
<text transform="translate(230.20,462.91) scale(1.020,1)" font-size="7.4" text-anchor="middle" font-weight="normal" fill="#262626" stroke="#262626" stroke-width="0.04" >S-6</text>
<text transform="translate(257.50,462.91) scale(1.020,1)" font-size="7.4" text-anchor="middle" font-weight="normal" fill="#262626" stroke="#262626" stroke-width="0.04" >S-1</text>
<text transform="translate(284.65,462.91) scale(1.020,1)" font-size="7.4" text-anchor="middle" font-weight="normal" fill="#262626" stroke="#262626" stroke-width="0.04" >S-2</text>
<text transform="translate(310.80,462.91) scale(1.020,1)" font-size="7.4" text-anchor="middle" font-weight="normal" fill="#262626" stroke="#262626" stroke-width="0.04" >S-3</text>
<text transform="translate(337.50,462.91) scale(1.020,1)" font-size="7.4" text-anchor="middle" font-weight="normal" fill="#262626" stroke="#262626" stroke-width="0.04" >S-1</text>
<text transform="translate(364.45,462.91) scale(1.020,1)" font-size="7.4" text-anchor="middle" font-weight="normal" fill="#262626" stroke="#262626" stroke-width="0.04" >S-2</text>
<text transform="translate(390.55,462.91) scale(1.020,1)" font-size="7.4" text-anchor="middle" font-weight="normal" fill="#262626" stroke="#262626" stroke-width="0.04" >S-1</text>
<text transform="translate(416.10,462.91) scale(1.020,1)" font-size="7.4" text-anchor="middle" font-weight="normal" fill="#262626" stroke="#262626" stroke-width="0.04" >S-2</text>
<text transform="translate(441.70,462.91) scale(1.020,1)" font-size="7.4" text-anchor="middle" font-weight="normal" fill="#262626" stroke="#262626" stroke-width="0.04" >S-3</text>
<text transform="translate(469.20,462.91) scale(1.020,1)" font-size="7.4" text-anchor="middle" font-weight="normal" fill="#262626" stroke="#262626" stroke-width="0.04" >S-1</text>
<text transform="translate(498.80,462.91) scale(1.020,1)" font-size="7.4" text-anchor="middle" font-weight="normal" fill="#262626" stroke="#262626" stroke-width="0.04" >S-2</text>
<text transform="translate(52.80,474.60) scale(1.020,1)" font-size="7.4" text-anchor="middle" font-weight="normal" fill="#262626" stroke="#262626" stroke-width="0.04" >D</text>
<text transform="translate(52.80,498.76) scale(1.020,1)" font-size="7.4" text-anchor="middle" font-weight="normal" fill="#262626" stroke="#262626" stroke-width="0.04" >1</text>
<text transform="translate(52.80,510.56) scale(1.020,1)" font-size="7.4" text-anchor="middle" font-weight="normal" fill="#262626" stroke="#262626" stroke-width="0.04" >2</text>
<text transform="translate(52.80,522.31) scale(1.020,1)" font-size="7.4" text-anchor="middle" font-weight="normal" fill="#262626" stroke="#262626" stroke-width="0.04" >3</text>
<text transform="translate(52.80,534.06) scale(1.020,1)" font-size="7.4" text-anchor="middle" font-weight="normal" fill="#262626" stroke="#262626" stroke-width="0.04" >4</text>
<text transform="translate(52.80,545.76) scale(1.020,1)" font-size="7.4" text-anchor="middle" font-weight="normal" fill="#262626" stroke="#262626" stroke-width="0.04" >5</text>
<text transform="translate(31.70,494.20) rotate(-90)" font-size="7.4" text-anchor="middle" font-weight="normal" fill="#262626" >Frequency in Blood (%)</text>
<rect x="0.00" y="0.00" width="520.00" height="1.00" fill="#767676" />
<rect x="0.00" y="555.00" width="520.00" height="1.00" fill="#6e6e6e" />
<rect x="0.00" y="0.00" width="1.00" height="556.00" fill="#858585" />
<rect x="519.00" y="0.00" width="1.00" height="556.00" fill="#7a7a7a" />
</svg>
</body></html>
